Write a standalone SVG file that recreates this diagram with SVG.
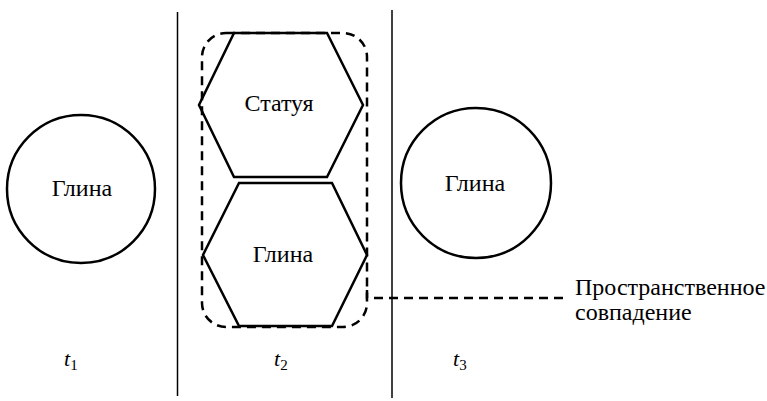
<svg xmlns="http://www.w3.org/2000/svg" width="767" height="401" viewBox="0 0 767 401">
<style>
.s{fill:none;stroke:#000;stroke-width:2.5}
.d{fill:none;stroke:#000;stroke-width:2.5;stroke-dasharray:9,6}
.l{stroke:#000;stroke-width:1.5}
text{font-family:'Liberation Serif','Times New Roman',serif;fill:#000}
.t{font-size:24px}
.ti{font-size:22px;font-style:italic}
.sub{font-size:15px;font-style:normal}
</style>
<rect width="767" height="401" fill="#fff"/>
<g id="dividers">
<line class="l" x1="177.5" y1="12" x2="177.5" y2="396"/>
<line class="l" x1="392" y1="10" x2="392" y2="398"/>
</g>
<g id="clay1">
<circle class="s" cx="81" cy="189" r="74"/>
<text class="t" x="82" y="196" text-anchor="middle">Глина</text>
</g>
<g id="coincidence-box">
<rect class="d" x="202" y="33" width="165" height="294" rx="24"/>
</g>
<g id="statue">
<polygon class="s" points="234,33 327,33 363,105 327,177 234,177 199,105"/>
<text class="t" x="279" y="111" text-anchor="middle">Статуя</text>
</g>
<g id="clay2">
<polygon class="s" points="239,183 332,183 367,255 332,326 239,326 203,255"/>
<text class="t" x="283" y="262" text-anchor="middle">Глина</text>
</g>
<g id="clay3">
<circle class="s" cx="476" cy="183" r="75"/>
<text class="t" x="475" y="191" text-anchor="middle">Глина</text>
</g>
<g id="connectors">
<polyline class="d" points="367,290 367,298 566,298"/>
</g>
<g id="label">
<text class="t" x="575" y="295">Пространственное</text>
<text class="t" x="575" y="320">совпадение</text>
</g>
<g id="times">
<text class="ti" x="64" y="366">t<tspan class="sub" dy="4">1</tspan></text>
<text class="ti" x="274" y="366">t<tspan class="sub" dy="4">2</tspan></text>
<text class="ti" x="453" y="366">t<tspan class="sub" dy="4">3</tspan></text>
</g>
</svg>
